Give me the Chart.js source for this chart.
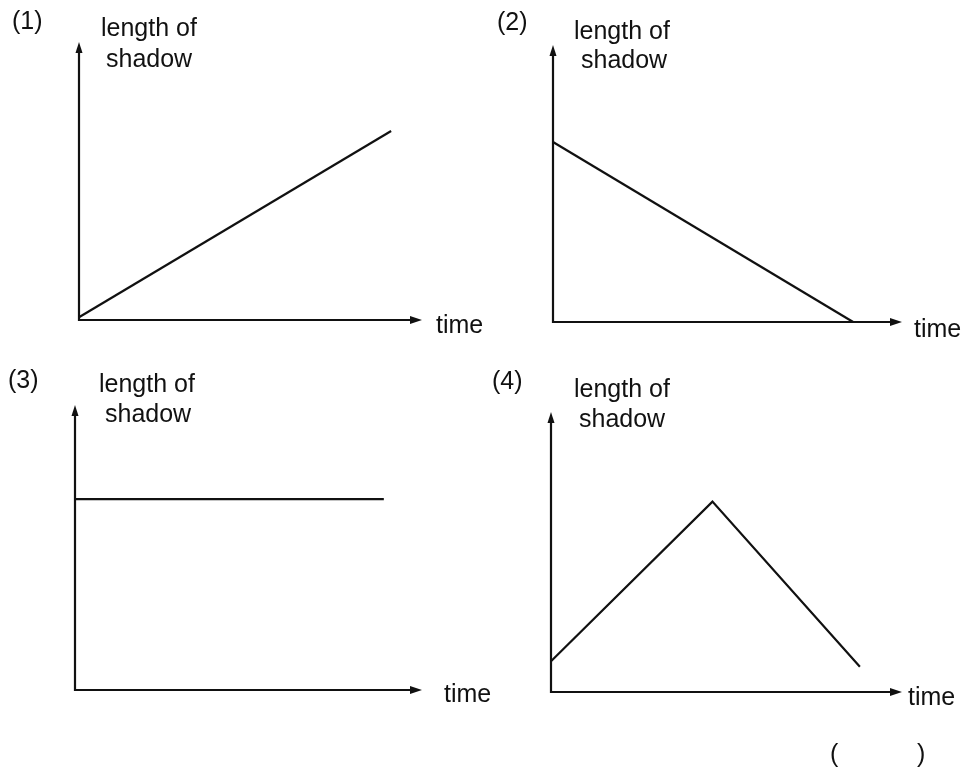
<!DOCTYPE html>
<html>
<head>
<meta charset="utf-8">
<title>length of shadow</title>
<script src="https://cdn.jsdelivr.net/npm/chart.js@4"></script>
<style>
  html, body { margin: 0; padding: 0; background: #fff; }
  #page { position: relative; width: 970px; height: 771px; overflow: hidden; }
  .panel { position: absolute; }
</style>
</head>
<body>
<div id="page">
  <div class="panel" style="left:0;top:0;width:500px;height:375px"><canvas id="c1"></canvas></div>
  <div class="panel" style="left:485px;top:0;width:485px;height:375px"><canvas id="c2"></canvas></div>
  <div class="panel" style="left:0;top:355px;width:500px;height:416px"><canvas id="c3"></canvas></div>
  <div class="panel" style="left:485px;top:355px;width:485px;height:416px"><canvas id="c4"></canvas></div>
</div>
<script>
// chart values (axis arrows = 10)
const panelNames = ['(1)', '(2)', '(3)', '(4)'];
const yTitle = ['length of', 'shadow'];
const xTitle = 'time';

const time1 = [0, 9.1];
const shadow1 = [0.1, 6.8];

const time2 = [0, 8.6];
const shadow2 = [6.5, 0];

const time3 = [0, 8.9];
const shadow3 = [6.7, 6.7];

const time4 = [0, 4.6, 8.8];
const shadow4 = [1.1, 6.8, 0.9];

const ink = '#111';
const font = '25px "Liberation Sans", Arial, sans-serif';

// where each panel puts its axes and labels (panel-local pixels)
const panels = [
    { id: 'c1', xs: time1, ys: shadow1, pad: { left: 79, top: 42, right: 78, bottom: 55 },
      num: [12, 29], len: [101, 36], sh: [106, 67], time: [436, 333] },
    { id: 'c2', xs: time2, ys: shadow2, pad: { left: 68, top: 45, right: 68, bottom: 53 },
      num: [12, 30], len: [89, 39], sh: [96, 68], time: [429, 337] },
    { id: 'c3', xs: time3, ys: shadow3, pad: { left: 75, top: 50, right: 78, bottom: 81 },
      num: [8, 33], len: [99, 37], sh: [105, 67], time: [444, 347] },
    { id: 'c4', xs: time4, ys: shadow4, pad: { left: 66, top: 57, right: 68, bottom: 79 },
      num: [7, 34], len: [89, 42], sh: [94, 72], time: [423, 350],
      answer: [[345, 407, '('], [432, 407, ')']] }
];

// axes with arrow heads, drawn from the scales
const axesPlugin = {
    id: 'arrowAxes',
    beforeDatasetsDraw(chart) {
        const ctx = chart.ctx;
        const x = chart.scales.x, y = chart.scales.y;
        const ox = x.getPixelForValue(0), oy = y.getPixelForValue(0);
        const tipX = x.getPixelForValue(10), tipY = y.getPixelForValue(10);
        ctx.save();
        ctx.strokeStyle = ink;
        ctx.fillStyle = ink;
        ctx.lineWidth = 2.2;
        ctx.beginPath();
        ctx.moveTo(ox, tipY + 6);
        ctx.lineTo(ox, oy);
        ctx.lineTo(tipX - 6, oy);
        ctx.stroke();
        // up arrow
        ctx.beginPath();
        ctx.moveTo(ox, tipY);
        ctx.lineTo(ox - 3.5, tipY + 11);
        ctx.lineTo(ox + 3.5, tipY + 11);
        ctx.closePath();
        ctx.fill();
        // right arrow
        ctx.beginPath();
        ctx.moveTo(tipX, oy);
        ctx.lineTo(tipX - 12, oy - 4);
        ctx.lineTo(tipX - 12, oy + 4);
        ctx.closePath();
        ctx.fill();
        ctx.restore();
    },
    afterDraw(chart, args, opts) {
        const ctx = chart.ctx;
        const p = opts.panel;
        ctx.save();
        ctx.fillStyle = ink;
        ctx.font = font;
        ctx.textAlign = 'left';
        ctx.textBaseline = 'alphabetic';
        ctx.fillText(opts.name, p.num[0], p.num[1]);
        ctx.fillText(yTitle[0], p.len[0], p.len[1]);
        ctx.fillText(yTitle[1], p.sh[0], p.sh[1]);
        ctx.fillText(xTitle, p.time[0], p.time[1]);
        (p.answer || []).forEach(a => ctx.fillText(a[2], a[0], a[1]));
        ctx.restore();
    }
};

panels.forEach((p, i) => {
    const ctx = document.getElementById(p.id).getContext('2d');
    new Chart(ctx, {
        type: 'line',
        data: {
            datasets: [{
                data: p.xs.map((v, k) => ({ x: v, y: p.ys[k] })),
                borderColor: ink,
                borderWidth: 2.2,
                pointRadius: 0,
                tension: 0,
                fill: false,
                clip: false
            }]
        },
        options: {
            responsive: true,
            maintainAspectRatio: false,
            animation: false,
            layout: { padding: p.pad },
            plugins: {
                legend: { display: false },
                tooltip: { enabled: false },
                arrowAxes: { panel: p, name: panelNames[i] }
            },
            scales: {
                x: { type: 'linear', min: 0, max: 10, display: false },
                y: { type: 'linear', min: 0, max: 10, display: false }
            }
        },
        plugins: [axesPlugin]
    });
});
</script>
</body>
</html>
